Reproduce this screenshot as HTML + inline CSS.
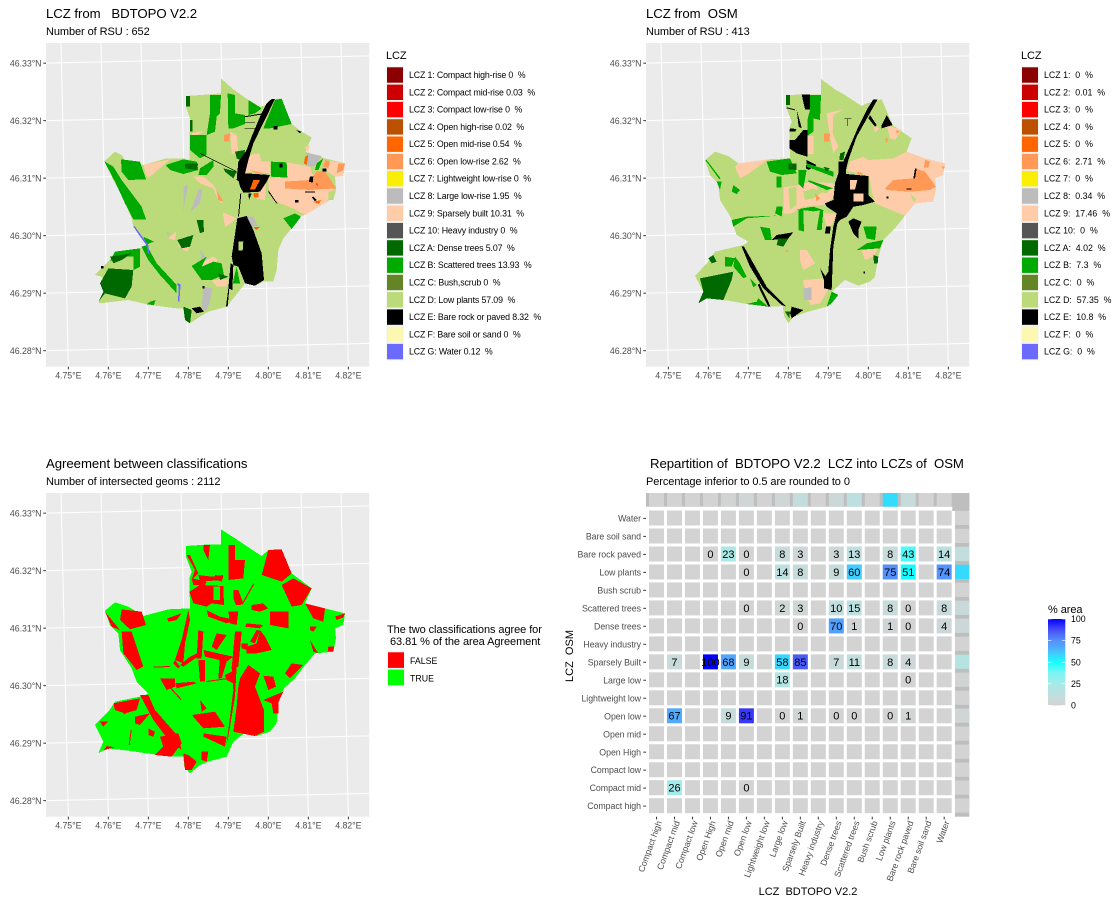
<!DOCTYPE html>
<html lang="en">
<head>
<meta charset="utf-8">
<title>LCZ comparison BDTOPO V2.2 and OSM</title>
<style>
html,body{margin:0;padding:0;background:#fff;}
svg{display:block;font-family:"Liberation Sans",Arial,sans-serif;}
text{white-space:pre;}
.title{font-size:13.2px;fill:#000;letter-spacing:-0.05px;}
.sub{font-size:11px;fill:#000;letter-spacing:-0.08px;}
.axt{font-size:11px;fill:#000;}
.tick{font-size:8.8px;fill:#4d4d4d;letter-spacing:-0.04px;}
.lt{font-size:8.8px;fill:#000;}
.ltb{font-size:8.8px;fill:#000;letter-spacing:-0.13px;}
.lgt{font-size:11px;fill:#000;letter-spacing:-0.07px;}
</style>
</head>
<body>
<svg id="chart" xmlns="http://www.w3.org/2000/svg" width="1118" height="905" viewBox="0 0 1118 905">
  <rect width="1118" height="905" fill="#fff"/>

  <text class="title" x="46" y="18">LCZ from   BDTOPO V2.2</text>
  <text class="sub" x="46" y="35">Number of RSU : 652</text>
  <text class="title" x="646" y="18">LCZ from  OSM</text>
  <text class="sub" x="646" y="35">Number of RSU : 413</text>
  <text class="title" x="46" y="468">Agreement between classifications</text>
  <text class="sub" x="46" y="485">Number of intersected geoms : 2112</text>
  <text class="title" x="650" y="468">Repartition of  BDTOPO V2.2  LCZ into LCZs of  OSM</text>
  <text class="sub" x="646" y="485">Percentage inferior to 0.5 are rounded to 0</text>

  <g id="map-bdtopo"></g>
  <g id="map-osm"></g>
  <g id="map-agreement"></g>
  <g id="heatmap"></g>

  <text class="axt" x="808" y="895" text-anchor="middle">LCZ  BDTOPO V2.2</text>
  <text class="axt" transform="translate(573 656) rotate(-90)" text-anchor="middle">LCZ  OSM</text>

  <g>
    <text class="lgt" x="386" y="59">LCZ</text>
    <rect x="386.3" y="66.4" width="17.4" height="294" fill="#f2f2f2"/>
    <g transform="translate(387 75)"><rect y="-7.7" width="16" height="15.4" fill="#8b0000"/><text class="ltb" x="22" y="3">LCZ 1: Compact high-rise 0  %</text></g>
    <g transform="translate(387 92.3)"><rect y="-7.7" width="16" height="15.4" fill="#cc0000"/><text class="ltb" x="22" y="3">LCZ 2: Compact mid-rise 0.03  %</text></g>
    <g transform="translate(387 109.6)"><rect y="-7.7" width="16" height="15.4" fill="#ff0000"/><text class="ltb" x="22" y="3">LCZ 3: Compact low-rise 0  %</text></g>
    <g transform="translate(387 126.9)"><rect y="-7.7" width="16" height="15.4" fill="#bb5000"/><text class="ltb" x="22" y="3">LCZ 4: Open high-rise 0.02  %</text></g>
    <g transform="translate(387 144.2)"><rect y="-7.7" width="16" height="15.4" fill="#ff6600"/><text class="ltb" x="22" y="3">LCZ 5: Open mid-rise 0.54  %</text></g>
    <g transform="translate(387 161.5)"><rect y="-7.7" width="16" height="15.4" fill="#ff9955"/><text class="ltb" x="22" y="3">LCZ 6: Open low-rise 2.62  %</text></g>
    <g transform="translate(387 178.7)"><rect y="-7.7" width="16" height="15.4" fill="#faee05"/><text class="ltb" x="22" y="3">LCZ 7: Lightweight low-rise 0  %</text></g>
    <g transform="translate(387 196)"><rect y="-7.7" width="16" height="15.4" fill="#bcbcbc"/><text class="ltb" x="22" y="3">LCZ 8: Large low-rise 1.95  %</text></g>
    <g transform="translate(387 213.3)"><rect y="-7.7" width="16" height="15.4" fill="#ffccaa"/><text class="ltb" x="22" y="3">LCZ 9: Sparsely built 10.31  %</text></g>
    <g transform="translate(387 230.6)"><rect y="-7.7" width="16" height="15.4" fill="#555555"/><text class="ltb" x="22" y="3">LCZ 10: Heavy industry 0  %</text></g>
    <g transform="translate(387 247.9)"><rect y="-7.7" width="16" height="15.4" fill="#006a00"/><text class="ltb" x="22" y="3">LCZ A: Dense trees 5.07  %</text></g>
    <g transform="translate(387 265.2)"><rect y="-7.7" width="16" height="15.4" fill="#00aa00"/><text class="ltb" x="22" y="3">LCZ B: Scattered trees 13.93  %</text></g>
    <g transform="translate(387 282.5)"><rect y="-7.7" width="16" height="15.4" fill="#648525"/><text class="ltb" x="22" y="3">LCZ C: Bush,scrub 0  %</text></g>
    <g transform="translate(387 299.8)"><rect y="-7.7" width="16" height="15.4" fill="#bbdb7a"/><text class="ltb" x="22" y="3">LCZ D: Low plants 57.09  %</text></g>
    <g transform="translate(387 317.1)"><rect y="-7.7" width="16" height="15.4" fill="#000000"/><text class="ltb" x="22" y="3">LCZ E: Bare rock or paved 8.32  %</text></g>
    <g transform="translate(387 334.4)"><rect y="-7.7" width="16" height="15.4" fill="#fcf7b1"/><text class="ltb" x="22" y="3">LCZ F: Bare soil or sand 0  %</text></g>
    <g transform="translate(387 351.6)"><rect y="-7.7" width="16" height="15.4" fill="#6a6aff"/><text class="ltb" x="22" y="3">LCZ G: Water 0.12  %</text></g>
  </g>

  <g>
    <text class="lgt" x="1021" y="59">LCZ</text>
    <rect x="1021.3" y="66.4" width="17.4" height="294" fill="#f2f2f2"/>
    <g transform="translate(1022 75)"><rect y="-7.7" width="16" height="15.4" fill="#8b0000"/><text class="lt" x="22" y="3">LCZ 1:  0  %</text></g>
    <g transform="translate(1022 92.3)"><rect y="-7.7" width="16" height="15.4" fill="#cc0000"/><text class="lt" x="22" y="3">LCZ 2:  0.01  %</text></g>
    <g transform="translate(1022 109.6)"><rect y="-7.7" width="16" height="15.4" fill="#ff0000"/><text class="lt" x="22" y="3">LCZ 3:  0  %</text></g>
    <g transform="translate(1022 126.9)"><rect y="-7.7" width="16" height="15.4" fill="#bb5000"/><text class="lt" x="22" y="3">LCZ 4:  0  %</text></g>
    <g transform="translate(1022 144.2)"><rect y="-7.7" width="16" height="15.4" fill="#ff6600"/><text class="lt" x="22" y="3">LCZ 5:  0  %</text></g>
    <g transform="translate(1022 161.5)"><rect y="-7.7" width="16" height="15.4" fill="#ff9955"/><text class="lt" x="22" y="3">LCZ 6:  2.71  %</text></g>
    <g transform="translate(1022 178.7)"><rect y="-7.7" width="16" height="15.4" fill="#faee05"/><text class="lt" x="22" y="3">LCZ 7:  0  %</text></g>
    <g transform="translate(1022 196)"><rect y="-7.7" width="16" height="15.4" fill="#bcbcbc"/><text class="lt" x="22" y="3">LCZ 8:  0.34  %</text></g>
    <g transform="translate(1022 213.3)"><rect y="-7.7" width="16" height="15.4" fill="#ffccaa"/><text class="lt" x="22" y="3">LCZ 9:  17.46  %</text></g>
    <g transform="translate(1022 230.6)"><rect y="-7.7" width="16" height="15.4" fill="#555555"/><text class="lt" x="22" y="3">LCZ 10:  0  %</text></g>
    <g transform="translate(1022 247.9)"><rect y="-7.7" width="16" height="15.4" fill="#006a00"/><text class="lt" x="22" y="3">LCZ A:  4.02  %</text></g>
    <g transform="translate(1022 265.2)"><rect y="-7.7" width="16" height="15.4" fill="#00aa00"/><text class="lt" x="22" y="3">LCZ B:  7.3  %</text></g>
    <g transform="translate(1022 282.5)"><rect y="-7.7" width="16" height="15.4" fill="#648525"/><text class="lt" x="22" y="3">LCZ C:  0  %</text></g>
    <g transform="translate(1022 299.8)"><rect y="-7.7" width="16" height="15.4" fill="#bbdb7a"/><text class="lt" x="22" y="3">LCZ D:  57.35  %</text></g>
    <g transform="translate(1022 317.1)"><rect y="-7.7" width="16" height="15.4" fill="#000000"/><text class="lt" x="22" y="3">LCZ E:  10.8  %</text></g>
    <g transform="translate(1022 334.4)"><rect y="-7.7" width="16" height="15.4" fill="#fcf7b1"/><text class="lt" x="22" y="3">LCZ F:  0  %</text></g>
    <g transform="translate(1022 351.6)"><rect y="-7.7" width="16" height="15.4" fill="#6a6aff"/><text class="lt" x="22" y="3">LCZ G:  0  %</text></g>
  </g>

  <g>
    <text class="lgt" x="387" y="633">The two classifications agree for</text>
    <text class="lgt" x="390" y="645">63.81 % of the area Agreement</text>
    <rect x="387.3" y="651.4" width="17.4" height="34.6" fill="#f2f2f2"/>
    <g><rect x="388" y="652.3" width="16" height="15.6" fill="#ff0000"/><text class="lt" x="410" y="664">FALSE</text></g>
    <g><rect x="388" y="669.6" width="16" height="15.6" fill="#00ff00"/><text class="lt" x="410" y="681.3">TRUE</text></g>
  </g>

  <g id="colorbar">
    <text class="lgt" x="1048" y="613">% area</text>
  </g>
</svg>

<script>
// ---------- Map axes ----------
const lonTicks = [4.75, 4.76, 4.77, 4.78, 4.79, 4.80, 4.81, 4.82];
const latTicks = [46.28, 46.29, 46.30, 46.31, 46.32, 46.33];
const lonTickLabels = ['4.75°E', '4.76°E', '4.77°E', '4.78°E', '4.79°E', '4.80°E', '4.81°E', '4.82°E'];
const latTickLabels = ['46.28°N', '46.29°N', '46.30°N', '46.31°N', '46.32°N', '46.33°N'];

// ---------- Heatmap data ----------
const osmClasses = ['Compact high', 'Compact mid', 'Compact low', 'Open High', 'Open mid', 'Open low', 'Lightweight low', 'Large low', 'Sparsely Built', 'Heavy industry', 'Dense trees', 'Scattered trees', 'Bush scrub', 'Low plants', 'Bare rock paved', 'Bare soil sand', 'Water'];
const bdtopoClasses = ['Compact high', 'Compact mid', 'Compact low', 'Open High', 'Open mid', 'Open low', 'Lightweight low', 'Large low', 'Sparsely Built', 'Heavy industry', 'Dense trees', 'Scattered trees', 'Bush scrub', 'Low plants', 'Bare rock paved', 'Bare soil sand', 'Water'];
const bdtopoShare = [0, 0.03, 0, 0.02, 0.54, 2.62, 0, 1.95, 10.31, 0, 5.07, 13.93, 0, 57.09, 8.32, 0, 0.12];
const osmShare = [0, 0.01, 0, 0, 0, 2.71, 0, 0.34, 17.46, 0, 4.02, 7.3, 0, 57.35, 10.8, 0, 0];
const n = null;
const rowCompactHigh = [n,n,n,n,n,n,n,n,n,n,n,n,n,n,n,n,n];
const rowCompactMid = [n,26,n,n,n,0,n,n,n,n,n,n,n,n,n,n,n];
const rowCompactLow = [n,n,n,n,n,n,n,n,n,n,n,n,n,n,n,n,n];
const rowOpenHigh = [n,n,n,n,n,n,n,n,n,n,n,n,n,n,n,n,n];
const rowOpenMid = [n,n,n,n,n,n,n,n,n,n,n,n,n,n,n,n,n];
const rowOpenLow = [n,67,n,n,9,91,n,0,1,n,0,0,n,0,1,n,n];
const rowLightweightLow = [n,n,n,n,n,n,n,n,n,n,n,n,n,n,n,n,n];
const rowLargeLow = [n,n,n,n,n,n,n,18,n,n,n,n,n,n,0,n,n];
const rowSparselyBuilt = [n,7,n,100,68,9,n,58,85,n,7,11,n,8,4,n,n];
const rowHeavyIndustry = [n,n,n,n,n,n,n,n,n,n,n,n,n,n,n,n,n];
const rowDenseTrees = [n,n,n,n,n,n,n,n,0,n,70,1,n,1,0,n,4];
const rowScatteredTrees = [n,n,n,n,n,0,n,2,3,n,10,15,n,8,0,n,8];
const rowBushScrub = [n,n,n,n,n,n,n,n,n,n,n,n,n,n,n,n,n];
const rowLowPlants = [n,n,n,n,n,0,n,14,8,n,9,60,n,75,51,n,74];
const rowBareRockPaved = [n,n,n,0,23,0,n,8,3,n,3,13,n,8,43,n,14];
const rowBareSoilSand = [n,n,n,n,n,n,n,n,n,n,n,n,n,n,n,n,n];
const rowWater = [n,n,n,n,n,n,n,n,n,n,n,n,n,n,n,n,n];
const areaPercent = [rowCompactHigh, rowCompactMid, rowCompactLow, rowOpenHigh, rowOpenMid, rowOpenLow, rowLightweightLow, rowLargeLow, rowSparselyBuilt, rowHeavyIndustry, rowDenseTrees, rowScatteredTrees, rowBushScrub, rowLowPlants, rowBareRockPaved, rowBareSoilSand, rowWater];
const colorbarTicks = [0, 25, 50, 75, 100];

// ---------- Map geometry: flat u,v cell lists on the raster grid ----------
const bdLowPlants = [[663,235,700,268,735,293,780,320,805,315,815,297,845,296,875,372,905,395,935,412,917,455,975,475,1035,490,1030,528,1005,530,1008,565,1000,590,975,610,915,645,895,650,875,685,850,715,835,750,830,810,820,845,790,845,765,857,735,850,720,870,680,920,625,935,600,950,570,970,553,950,550,925,530,925,450,915,385,900,300,910,295,905,315,865,305,830,285,825,325,785,345,755,420,745,440,735,420,710,400,680,395,655,365,585,340,540,313,484,345,455,365,465,375,480,430,495,500,475,550,475,568,480,568,400,575,370,558,320,558,288,630,283,663,280]];
const bdSparse = [[430,495,510,478,450,530,440,530],[575,400,610,392,580,415],[690,395,710,405,715,460,695,460],[750,465,778,460,783,485,810,485,810,520,760,515,735,520,738,485],[805,535,855,530,860,487,930,500,935,520,1000,570,1005,570,975,610,915,645,880,625,840,610,815,595,805,570],[970,480,1035,490,1030,528,1005,530,975,510],[770,520,800,525,795,600,770,595,775,560],[668,637,710,655,675,682],[505,715,528,695,525,720],[580,530,610,530,640,555,670,610,655,600,640,565,600,550],[600,790,640,770,655,780,610,810],[635,840,685,838,680,860,650,860],[530,735,570,740,560,755],[915,440,930,438,922,460]];
const bdLowInside = [[985,575,1008,570,1000,600,985,600]];
const bdOpenLow = [[855,545,930,540,950,515,975,515,1008,565,930,570,855,565],[672,405,690,400,688,425,672,425],[975,480,990,485,985,505,970,500],[1015,490,1035,490,1030,510,1010,520],[650,570,670,605,655,600],[750,510,790,520,770,520]];
const bdOpenMid = [[760,540,780,540,765,568,750,568],[760,580,775,578,775,592,762,592],[760,682,780,680,770,690],[915,470,925,465,920,495,912,490],[940,605,965,600,955,612]];
const bdCompactLow = [[948,550,953,550,952,558]];
const bdLargeLow = [[920,458,965,468,945,500,920,500],[550,560,565,555,555,600,550,645],[595,570,608,565,600,610,570,638],[740,650,760,650,775,680,755,680],[610,860,637,865,630,905,620,932,605,925],[600,750,622,775,605,785],[500,695,510,700,505,710]];
const bdScattered = [[630,285,663,285,660,340,650,350,645,395,620,405,630,340],[683,280,705,285,705,340,735,345,735,372,700,385,685,385],[745,300,785,325,765,340,745,345],[825,300,845,296,875,372,810,385,790,385],[570,405,620,405,620,465,600,475,570,450],[313,484,340,500,365,540,395,580,425,620,438,658,400,658,375,610,345,545],[363,478,420,485,438,538,385,540,365,515],[497,495,550,478,590,485,595,510,550,522,510,510],[600,505,640,480,640,500,620,525,595,525],[813,485,860,487,862,533,813,530],[850,655,885,640,903,650,875,687],[575,798,620,770,605,800,640,785,665,790,672,825,635,840,605,840],[710,800,720,850,698,850],[425,740,440,735,470,790,530,855,530,880,480,825,445,780],[345,755,420,745,420,800,400,810,400,770,350,770,330,785],[430,710,462,725,440,733],[450,905,467,900,462,915,440,913],[950,490,970,475,955,510,945,510]];
const bdDense = [[300,850,325,805,400,810,395,860,375,895,315,880,295,905,310,875],[330,770,395,760,365,780,340,790],[558,288,570,288,570,320,558,320],[555,490,595,490,590,510,555,505],[705,455,735,450,730,485,710,475],[532,720,580,705,570,740,545,745],[590,660,610,660,612,695,600,700],[550,920,575,930,570,970,555,960],[670,505,710,515,700,535,675,515],[655,820,685,830,660,840],[570,360,578,360,578,395,570,395]];
const bdBlack = [[815,297,825,297,760,430,745,480,735,520,720,545,710,540,715,485,740,450,755,410,780,350,800,310],[710,518,810,525,800,545,780,575,730,578,720,560],[745,580,755,580,747,600],[712,655,740,648,760,690,785,760,792,840,765,857,735,850,715,800,700,795,695,770],[721,580,724,580,717,650,714,650],[692,790,700,795,697,870,685,865],[685,865,688,865,683,920,678,920],[733,349,795,339,795,342,733,352],[733,366,765,366,765,368,733,368],[733,384,770,384,770,386,733,386],[600,920,612,935,590,940,575,925],[888,390,905,395,900,400],[838,490,848,490,848,503,838,503],[930,530,940,530,938,548,926,545],[915,575,945,575,945,578,915,578],[885,600,895,600,895,608,885,608],[805,570,832,610,829,610,805,576],[600,459,710,514,710,516,600,461],[303,798,310,798,310,806,303,806],[820,378,832,378,832,388,820,388],[940,590,950,600,945,604,935,592],[968,505,980,505,980,515,968,515],[607,858,613,858,613,865,607,865]];
const bdLowPlantHoles = [[716,725,730,725,728,752,716,752]];
const bdWater = [[400,680,405,680,445,735,448,760,443,760,440,737],[530,850,542,852,538,905,534,905,536,860]];

const osmLowPlants = [[663,87,705,118,735,135,785,168,800,160,845,148,878,225,935,265,920,305,975,325,1035,340,1030,375,1005,385,1008,415,1000,455,945,460,915,497,885,535,850,570,835,620,825,680,810,695,775,707,735,690,695,725,680,770,625,785,580,800,565,820,553,800,548,768,520,770,440,762,385,752,320,745,295,760,310,725,285,678,325,635,345,605,400,592,430,585,445,575,410,555,395,510,385,490,360,450,355,400,330,375,315,330,345,305,385,318,415,340,440,345,505,328,570,325,568,235,575,215,558,170,558,135,630,133,663,133]];
const osmSparse = [[740,362,750,335,790,320,805,330,880,325,920,305,975,325,1035,340,1030,375,1005,385,1008,415,1000,455,945,460,915,497,825,460,815,425,808,378],[622,258,640,258,640,312,622,312],[680,190,730,178,700,195,698,250,715,290,700,310,690,260],[415,340,505,328,440,375,420,385,405,350],[550,412,605,405,630,395,700,400,705,440,670,465,610,470,575,490,550,490],[600,600,620,600,645,640,610,660,600,630],[610,690,670,685,685,720,660,760,630,765,610,700],[820,225,838,235,825,250],[860,225,905,240,885,270,870,265],[785,600,835,595,820,620,795,630]];
const osmLowInside = [[610,425,640,415,670,425,640,445,615,450],[640,262,668,262,660,305,645,310],[930,430,950,450,940,455],[800,250,860,240,880,290,850,325,790,320],[565,415,590,410,590,465,570,480],[650,405,695,415,680,430,655,425]];
const osmOpenLow = [[855,415,880,390,940,385,945,355,975,365,1008,410,990,420,930,425,860,420],[672,250,690,250,688,275,672,275],[975,330,990,335,985,352,972,352],[645,430,660,445,650,455],[890,240,900,245,890,250],[855,265,865,265,860,280],[1025,350,1035,350,1030,358],[770,365,790,370,775,375],[557,600,565,600,563,607]];
const osmBlack = [[820,148,833,148,770,260,745,330,735,370,725,345,745,300,775,230,800,180],[715,335,740,335,738,372,805,378,805,435,825,455,790,465,760,470,740,500,720,510,712,520,700,590,695,720,672,715,672,685,685,665,690,600,700,530,710,490,680,470,675,460,700,450,705,400,715,370],[568,270,585,270,610,240,622,240,622,320,590,310,568,295],[570,235,590,237,585,245,568,245],[605,133,630,133,630,178,615,178],[845,225,860,195,878,225,845,235],[760,505,785,515,775,540,775,565,760,550,745,515],[678,530,692,530,690,550,675,550],[530,555,580,547,565,565,515,570],[425,590,432,590,480,675,500,710,560,770,545,765,490,715,450,650],[478,700,512,770,505,770,473,705],[575,770,610,780,575,805,570,790],[620,330,650,345,625,360,618,355],[733,205,755,205,755,207,733,207],[742,205,744,205,744,228,742,228],[810,195,830,225,825,230,805,205],[660,655,680,685,672,690],[590,180,600,215,605,235,596,230],[560,172,585,178,585,181,560,175],[790,665,795,665,795,670,790,670],[945,355,950,355,945,385,940,385],[920,415,935,415,935,418,920,418],[860,440,866,440,866,445,860,445]];
const osmPeachHoles = [[750,390,772,390,765,418,750,418],[760,430,790,430,790,455,760,455],[670,490,710,490,695,525,680,530]];
const osmLargeLow = [[610,715,635,712,635,750,610,750]];
const osmScattered = [[630,135,663,135,660,210,640,205,640,245,622,258,622,210,630,180],[790,530,830,530,825,570,800,565],[770,600,800,580,850,570,840,595],[680,770,695,725,715,735,695,760],[480,530,510,535,515,570,495,570],[530,470,548,470,545,500,525,490],[595,480,610,480,612,545,595,540],[660,480,670,480,665,540,650,540],[500,335,570,325,590,370,545,375,510,365],[595,360,620,360,610,415,595,400],[620,340,700,365,700,380,620,350],[625,390,700,415,680,420,625,395],[400,405,420,420,410,432,395,425],[350,395,365,395,360,420],[316,330,320,330,362,385,358,388],[475,745,505,770,440,762,470,755],[450,685,470,705,460,712],[405,620,420,640,440,680,430,685,400,650],[375,620,405,625,395,650,375,650],[530,380,545,380,545,412,530,412],[590,478,640,470,670,480,640,484],[395,510,440,500,530,497,440,505,400,530]];
const osmDense = [[300,685,400,665,395,690,370,750,320,745,295,760,310,725],[558,135,570,135,570,165,558,165],[325,625,340,615,350,635,335,640],[565,340,590,340,590,360,565,358],[820,615,835,620,833,640,822,640],[555,785,570,785,568,805],[670,350,690,355,680,365],[535,565,565,565,550,590,530,585],[720,310,735,305,730,330,718,330]];

const agreeBase = [[483,58,525,85,555,105,605,138,625,120,665,118,695,190,755,235,735,280,795,295,855,310,850,345,825,355,828,385,820,425,765,430,735,465,705,505,672,535,655,580,650,640,630,665,590,678,555,668,520,695,500,740,445,755,420,765,390,790,373,770,370,740,340,740,260,730,205,722,140,715,115,730,130,695,105,645,145,605,165,575,250,558,265,550,230,515,215,475,180,420,175,370,150,345,135,302,165,277,205,290,250,318,325,298,390,295,388,205,395,185,378,140,378,108,450,103,483,103]];
const agreeFalse = [[625,120,665,118,695,190,665,215,635,205,605,195],[700,205,755,235,725,285,695,290,665,225],[735,280,795,295,790,335,760,325],[825,320,855,310,850,322,830,330],[630,305,685,305,685,355,630,345],[575,285,610,280,625,295,600,305,575,300],[388,245,420,225,490,228,492,285,455,280,440,290,400,280],[505,105,525,105,525,150,555,150,550,205,505,210],[430,105,450,105,445,150,430,120],[380,135,390,135,415,190,395,210,405,180],[185,298,245,305,258,345,210,358,180,330],[135,305,180,360,155,350],[185,365,215,365,250,470,230,480,190,430],[322,325,365,310,350,330,325,335],[385,300,390,330,375,400,370,460,345,450,365,390],[415,360,430,365,425,445,410,445],[430,420,520,440,500,455,435,440],[470,370,500,375,470,420,455,410],[390,440,420,425,420,435,370,470,360,465],[525,365,545,365,535,470,515,475],[480,440,500,455,485,505,475,505],[415,450,435,450,435,515,420,515],[540,505,565,465,600,490,585,530,612,600,612,665,585,678,520,665,530,590,535,530],[560,430,590,430,635,420,615,380,600,360,590,400,560,410],[675,490,695,460,730,465,690,505],[610,497,640,500,648,530,625,540],[610,570,670,545,655,575,655,610,640,610,635,580],[300,505,345,505,345,530,320,540],[240,555,265,555,285,600,355,680,365,720,325,690,280,630],[345,520,400,515,410,520,350,535],[160,580,240,565,230,600,195,610,165,600],[225,620,270,610,240,645,225,640],[265,655,285,665,280,680,265,675],[300,680,355,670,365,700,335,740,285,735,310,710],[395,615,465,605,495,650,430,655],[430,670,500,680,495,710,430,680],[420,570,440,595,425,605],[425,725,445,725,440,755,425,750],[370,730,385,735,410,755,395,780,375,780],[515,470,530,470,525,560,515,620,505,680,500,700,510,620,520,540],[415,195,455,200,490,195,485,210,420,215],[520,240,535,240,550,280,530,290,520,265],[560,340,610,345,600,355,555,350],[505,305,535,305,530,345,510,340],[750,350,770,350,760,365,750,360],[750,390,775,430,760,425],[805,410,822,410,820,425,803,425],[440,300,480,320,530,330,500,340,445,320],[545,400,565,400,560,420,545,415],[570,395,590,360,600,362,585,400],[120,635,145,635,130,650],[180,600,200,595,195,615],[340,460,345,450,360,470,355,475],[130,722,140,708,165,712,140,718],[395,205,440,215,435,225,400,225],[465,195,490,200,485,215,470,210],[545,282,580,220,583,222,548,284],[280,470,330,468,330,471,280,473],[440,513,510,503,510,506,440,516],[330,535,333,533,365,568,362,570],[212,660,215,660,209,705,206,705],[495,495,525,480,520,520,500,510]];
const agreeTrueHoles = [[460,230,480,230,480,270,460,270],[525,285,540,285,535,295]];

// ---------- Axis functions ----------
const SVGNS = 'http://www.w3.org/2000/svg';
const lonToX = lon => 68.33 + (lon - 4.75) * 4000;
const latToY = lat => 350.67 - (lat - 46.28) * 5750;
const gridToLon = u => 4.75 + (u - 205) / 12000;
const gridToLat = v => 46.28 + (1052 - v) / 17250;
const colToX = c => 656.5 + c * 17.98;
const rowToY = r => 805.7 - r * 17.98;
const pctToBarY = p => 705.4 - p * 0.864;

const colorStops = [[0,[211,211,211]],[12.5,[191,223,222]],[25,[166,234,232]],[37.5,[125,245,243]],[50,[18,255,255]],[60,[64,204,255]],[67,[80,170,255]],[75,[85,144,250]],[85,[74,92,245]],[91,[56,56,250]],[100,[0,0,255]]];
function pctColor(p) {
  for (let i = 1; i < colorStops.length; i++) {
    if (p <= colorStops[i][0]) {
      const a = colorStops[i - 1], b = colorStops[i];
      const t = (p - a[0]) / (b[0] - a[0]);
      const c = a[1].map((v, k) => Math.round(v + (b[1][k] - v) * t));
      return 'rgb(' + c.join(',') + ')';
    }
  }
  return 'rgb(0,0,255)';
}
function mk(tag, attrs, parent) {
  const el = document.createElementNS(SVGNS, tag);
  for (const k in attrs) el.setAttribute(k, attrs[k]);
  parent.appendChild(el);
  return el;
}

// ---------- Map drawing ----------
function drawMap(root, ox, oy, su, sv, layers) {
  const g = document.getElementById(root);
  const L = ox + 46, R = ox + 369.3, T = oy + 43, B = oy + 366.7;
  const bg = mk('rect', {x: L, y: T, width: R - L, height: B - T, fill: '#ebebeb'}, g);
  
  
  lonTicks.forEach((lon, i) => {
    const x = ox + lonToX(lon);
    const line = mk('line', {x1: x, y1: B, x2: x - 7.3, y2: T, stroke: '#fff', 'stroke-width': 1}, g);
    
    
    const t = mk('line', {x1: x, y1: B, x2: x, y2: B + 2.7, stroke: '#333', 'stroke-width': 1}, g);
    
    
    const lab = mk('text', {x: x, y: B + 12, 'text-anchor': 'middle', class: 'tick'}, g);
    
    
    lab.textContent = lonTickLabels[i];
  });
  latTicks.forEach((lat, i) => {
    const y = oy + latToY(lat);
    const line = mk('line', {x1: L, y1: y, x2: R, y2: y - 7.3, stroke: '#fff', 'stroke-width': 1}, g);
    
    
    const t = mk('line', {x1: L - 2.7, y1: y, x2: L, y2: y, stroke: '#333', 'stroke-width': 1}, g);
    
    
    const lab = mk('text', {x: L - 4.5, y: y + 3.1, 'text-anchor': 'end', class: 'tick'}, g);
    
    
    lab.textContent = latTickLabels[i];
  });
  layers.forEach(layer => {
    layer[0].forEach(flat => {
      const pts = [];
      for (let i = 0; i < flat.length; i += 2) {
        const x = ox + lonToX(gridToLon(flat[i] + su));
        const y = oy + latToY(gridToLat(flat[i + 1] + sv));
        pts.push(x.toFixed(2) + ',' + y.toFixed(2));
      }
      const p = mk('polygon', {points: pts.join(' '), fill: layer[1], 'shape-rendering': 'crispEdges'}, g);
      
      
    });
  });
}

drawMap('map-bdtopo', 0, 0, 0, 0, [
  [bdLowPlants, '#bbdb7a'], [bdSparse, '#ffccaa'], [bdLowInside, '#bbdb7a'], [bdOpenLow, '#ff9955'], [bdLargeLow, '#bcbcbc'],
  [bdScattered, '#00aa00'], [bdDense, '#006a00'], [bdBlack, '#000000'], [bdOpenMid, '#ff6600'],
  [bdCompactLow, '#ff0000'], [bdLowPlantHoles, '#bbdb7a'], [bdWater, '#6a6aff']
]);
drawMap('map-osm', 600, 0, 0, 150, [
  [osmLowPlants, '#bbdb7a'], [osmSparse, '#ffccaa'], [osmLowInside, '#bbdb7a'], [osmOpenLow, '#ff9955'],
  [osmBlack, '#000000'], [osmPeachHoles, '#ffccaa'], [osmLargeLow, '#bcbcbc'], [osmScattered, '#00aa00'], [osmDense, '#006a00']
]);
drawMap('map-agreement', 0, 450, 180, 180, [
  [agreeBase, '#00ff00'], [agreeFalse, '#ff0000'], [agreeTrueHoles, '#00ff00']
]);

// ---------- Heatmap drawing ----------
(function () {
  const g = document.getElementById('heatmap');
  const L = 646, R = 969.3, T = 493, B = 816.7;
  const bg = mk('rect', {x: L, y: T, width: R - L, height: B - T, fill: '#fff'}, g);
  
  
  const topBand = mk('rect', {x: L, y: T, width: R - L, height: 13.7, fill: '#bebebe'}, g);
  
  
  const rightBand = mk('rect', {x: 952.3, y: T, width: R - 952.3, height: 18, fill: '#bebebe'}, g);
  
  
  const rightBand2 = mk('rect', {x: 955, y: T, width: R - 955, height: B - T, fill: '#bebebe'}, g);
  
  

  bdtopoShare.forEach((v, c) => {
    const r = mk('rect', {x: colToX(c) - 7.5, y: T, width: 15, height: 13.7, fill: pctColor(v)}, g);
    
    
  });
  osmShare.forEach((v, i) => {
    const r = mk('rect', {x: 955, y: rowToY(i) - 7.2, width: R - 955, height: 14.2, fill: pctColor(v)}, g);
    
    
  });

  areaPercent.forEach((row, i) => {
    row.forEach((v, c) => {
      const cell = mk('rect', {x: colToX(c) - 7.5, y: rowToY(i) - 7.5, width: 15, height: 15, fill: v === null ? '#d3d3d3' : pctColor(v)}, g);
      
      
    });
  });
  areaPercent.forEach((row, i) => {
    row.forEach((v, c) => {
      if (v === null) return;
      const t = mk('text', {x: colToX(c), y: rowToY(i) + 3.9, 'text-anchor': 'middle', 'font-size': 11, fill: '#000'}, g);
      
      
      t.textContent = v;
    });
  });
  osmClasses.forEach((name, i) => {
    const y = rowToY(i) + 0.4;
    const tk = mk('line', {x1: L - 2.7, y1: y, x2: L, y2: y, stroke: '#333', 'stroke-width': 1}, g);
    
    
    const lab = mk('text', {x: L - 5, y: y + 3.1, 'text-anchor': 'end', class: 'tick'}, g);
    
    
    lab.textContent = name;
  });
  bdtopoClasses.forEach((name, c) => {
    const x = colToX(c);
    const tk = mk('line', {x1: x, y1: B, x2: x, y2: B + 2.7, stroke: '#333', 'stroke-width': 1}, g);
    
    
    const lab = mk('text', {transform: 'translate(' + (x + 5.5) + ' ' + (B + 5.5) + ') rotate(-70)', 'text-anchor': 'end', class: 'tick'}, g);
    
    
    lab.textContent = name;
  });
})();

// ---------- Colour bar ----------
(function () {
  const g = document.getElementById('colorbar');
  const defs = mk('defs', {}, g);
  const grad = mk('linearGradient', {id: 'barGrad', x1: 0, y1: 1, x2: 0, y2: 0}, defs);
  colorStops.forEach(s => {
    mk('stop', {offset: (s[0]) + '%', 'stop-color': pctColor(s[0])}, grad);
  });
  const bar = mk('rect', {x: 1048, y: pctToBarY(100), width: 17.3, height: 86.4, fill: 'url(#barGrad)'}, g);
  
  
  colorbarTicks.forEach(p => {
    const y = pctToBarY(p);
    const a = mk('line', {x1: 1048, y1: y, x2: 1051.5, y2: y, stroke: '#fff', 'stroke-width': 0.6}, g);
    
    
    const b = mk('line', {x1: 1061.8, y1: y, x2: 1065.3, y2: y, stroke: '#fff', 'stroke-width': 0.6}, g);
    
    
    const t = mk('text', {x: 1071, y: y + 3.1, class: 'lt'}, g);
    
    
    t.textContent = p;
  });
})();
</script>
</body>
</html>
